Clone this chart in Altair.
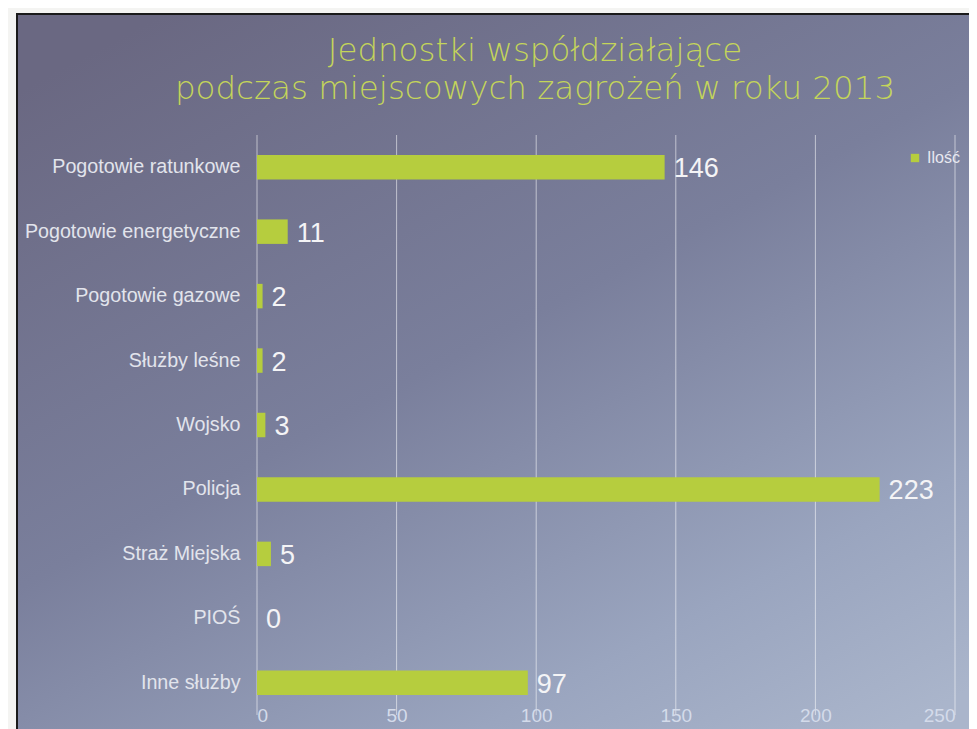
import altair as alt
import pandas as pd

categories = ["Pogotowie ratunkowe", "Pogotowie energetyczne", "Pogotowie gazowe",
              "Służby leśne", "Wojsko", "Policja", "Straż Miejska", "PIOŚ", "Inne służby"]
values = [146, 11, 2, 2, 3, 223, 5, 0, 97]
series_name = "Ilość"
x_ticks = [0, 50, 100, 150, 200, 250]

df = pd.DataFrame({"kategoria": categories, "wartosc": values, "seria": series_name})
grid_df = pd.DataFrame({"t": x_ticks})

W, H = 698, 580
BAR = "#b6cd3e"

x_scale = alt.Scale(domain=[0, 250], nice=False)
y_scale = alt.Scale(domain=categories, paddingInner=0.62, paddingOuter=0.31)

bg = alt.Chart(pd.DataFrame({"a": [0]})).mark_rect(
    fill=alt.Gradient(
        gradient="linear", x1=0.15, y1=0, x2=0.85, y2=1,
        stops=[alt.GradientStop(color="#6a6882", offset=0),
               alt.GradientStop(color="#7a7f9c", offset=0.45),
               alt.GradientStop(color="#9aa5bf", offset=0.8),
               alt.GradientStop(color="#aab5cb", offset=1)]),
    stroke="#1a1a1a", strokeWidth=2,
).encode(x=alt.value(-240), x2=alt.value(W + 40), y=alt.value(-121), y2=alt.value(H + 40))

grid = alt.Chart(grid_df).mark_rule(color="#ffffff", opacity=0.55, strokeWidth=1).encode(
    x=alt.X("t:Q", scale=x_scale)
)

bars = alt.Chart(df).mark_bar(cornerRadius=0).encode(
    x=alt.X("wartosc:Q", scale=x_scale,
            axis=alt.Axis(values=x_ticks, grid=False, domain=False, ticks=False,
                          labelColor="#d4dbea", labelFontSize=19, labelPadding=-9,
                          labelFont="Liberation Sans Narrow, Liberation Sans", title=None,
                          zindex=2)),
    y=alt.Y("kategoria:N", scale=y_scale, sort=categories,
            axis=alt.Axis(domain=False, ticks=False, grid=False, labelColor="#e2e4ec",
                          labelFontSize=19.7, labelPadding=17, labelFont="Liberation Sans",
                          title=None, labelLimit=300, zindex=2)),
    color=alt.Color("seria:N", scale=alt.Scale(range=[BAR]),
                    legend=alt.Legend(title=None, orient="none", legendX=650, legendY=15,
                                      symbolType="square", symbolSize=70, symbolStrokeWidth=0,
                                      labelColor="#e8e8f0", labelFontSize=16,
                                      labelFont="Liberation Sans", zindex=2)),
)

labels = alt.Chart(df).mark_text(
    align="left", baseline="middle", dx=9, dy=2, fontSize=27, color="#f4f4f6",
    font="Liberation Sans Narrow, Liberation Sans",
).encode(
    x=alt.X("wartosc:Q", scale=x_scale),
    y=alt.Y("kategoria:N", scale=y_scale, sort=categories),
    text=alt.Text("wartosc:Q"),
)

chart = alt.layer(bg, grid, bars, labels).properties(
    width=W, height=H,
    padding={"left": 249, "top": 127, "right": 14, "bottom": 14},
    autosize=alt.AutoSizeParams(type="none"),
    background="#f4f4f2",
    title=alt.TitleParams(
        text=["Jednostki współdziałające", "podczas miejscowych zagrożeń w roku 2013"],
        anchor="middle", dx=-71, dy=122, offset=30, fontSize=32.5, lineHeight=38,
        font="DejaVu Sans", fontWeight=200, color="#c4d55a", zindex=2,
    ),
).configure_view(stroke=None)

chart.save("out.html", embed_options={"renderer": "svg", "actions": False})
